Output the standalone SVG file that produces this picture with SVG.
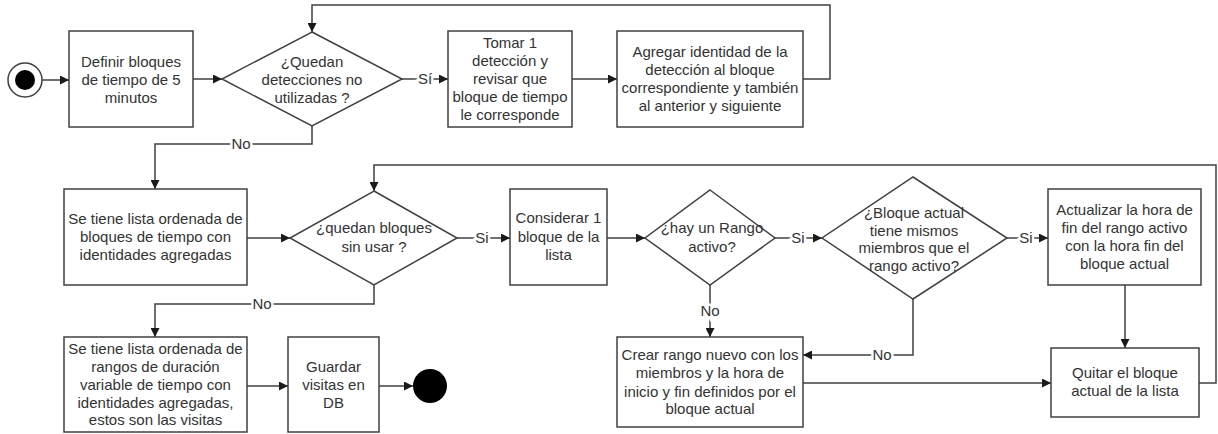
<svg xmlns="http://www.w3.org/2000/svg" width="1218" height="434" viewBox="0 0 1218 434">
  <style>
    .shape { fill: #ffffff; stroke: #404040; stroke-width: 1.5; }
    .txt { font-family: "Liberation Sans", Arial, sans-serif; font-size: 15px; fill: #333333; text-anchor: middle; }
    .lbl { font-family: "Liberation Sans", Arial, sans-serif; font-size: 15px; fill: #333333; text-anchor: middle; stroke: #ffffff; stroke-width: 5; paint-order: stroke; }
    .conn { fill: none; stroke: #404040; stroke-width: 1.5; }
    .arrow { marker-end: url(#head); }
  </style>
  <defs>
    <marker id="head" viewBox="0 0 10 10" refX="10" refY="5" markerWidth="9" markerHeight="9" markerUnits="userSpaceOnUse" orient="auto">
      <path d="M0,0 L10,5 L0,10 Z" fill="#1a1a1a"/>
    </marker>
  </defs>

  <rect width="1218" height="434" fill="#ffffff"/>

  <!-- connectors -->
  <g id="connectors">
    <path class="conn arrow" d="M42,80 H69"/>
    <path class="conn arrow" d="M193,79 H222"/>
    <path class="conn arrow" d="M402,79 H448"/>
    <path class="conn arrow" d="M572,79 H617"/>
    <path class="conn arrow" d="M803,79 H830 V5 H312 V32"/>
    <path class="conn arrow" d="M312,126 V144 H155 V189"/>
    <path class="conn arrow" d="M247,238 H290"/>
    <path class="conn arrow" d="M457,238 H510"/>
    <path class="conn arrow" d="M607,238 H645"/>
    <path class="conn arrow" d="M775,238 H822"/>
    <path class="conn arrow" d="M1007,238 H1048"/>
    <path class="conn arrow" d="M710,285 V337"/>
    <path class="conn arrow" d="M913,299 V355 H803"/>
    <path class="conn arrow" d="M1125,285 V348"/>
    <path class="conn arrow" d="M803,383 H1051"/>
    <path class="conn arrow" d="M1199,383 H1216 V165 H374 V191"/>
    <path class="conn arrow" d="M374,285 V304 H155 V337"/>
    <path class="conn arrow" d="M247,386 H288"/>
    <path class="conn arrow" d="M379,386 H413"/>

    <text class="lbl" x="425" y="84">Sí</text>
    <text class="lbl" x="241" y="149">No</text>
    <text class="lbl" x="482" y="243">Si</text>
    <text class="lbl" x="798" y="243">Si</text>
    <text class="lbl" x="1026" y="243">Si</text>
    <text class="lbl" x="710" y="316">No</text>
    <text class="lbl" x="882" y="360">No</text>
    <text class="lbl" x="262" y="309">No</text>
  </g>

  <!-- start -->
  <g id="start">
    <circle cx="25" cy="80" r="17" fill="#ffffff" stroke="#404040" stroke-width="1.5"/>
    <circle cx="25" cy="80" r="10" fill="#000000"/>
  </g>

  <g id="definir">
    <rect class="shape" x="69" y="31" width="124" height="96"/>
    <text class="txt"><tspan x="131" y="67">Definir bloques</tspan><tspan x="131" y="85">de tiempo de 5</tspan><tspan x="131" y="103">minutos</tspan></text>
  </g>

  <g id="quedan-detecciones">
    <polygon class="shape" points="312,32 402,79 312,126 222,79"/>
    <text class="txt"><tspan x="312" y="67">¿Quedan</tspan><tspan x="312" y="85">detecciones no</tspan><tspan x="312" y="103">utilizadas ?</tspan></text>
  </g>

  <g id="tomar">
    <rect class="shape" x="448" y="31" width="124" height="96"/>
    <text class="txt"><tspan x="510" y="48">Tomar 1</tspan><tspan x="510" y="66">detección y</tspan><tspan x="510" y="84">revisar que</tspan><tspan x="510" y="102">bloque de tiempo</tspan><tspan x="510" y="120">le corresponde</tspan></text>
  </g>

  <g id="agregar">
    <rect class="shape" x="617" y="31" width="186" height="96"/>
    <text class="txt"><tspan x="710" y="57">Agregar identidad de la</tspan><tspan x="710" y="75">detección al bloque</tspan><tspan x="710" y="93">correspondiente y también</tspan><tspan x="710" y="111">al anterior y siguiente</tspan></text>
  </g>

  <g id="lista-bloques">
    <rect class="shape" x="64" y="189" width="183" height="96"/>
    <text class="txt"><tspan x="155.5" y="224">Se tiene lista ordenada de</tspan><tspan x="155.5" y="242">bloques de tiempo con</tspan><tspan x="155.5" y="260">identidades agregadas</tspan></text>
  </g>

  <g id="quedan-bloques">
    <polygon class="shape" points="374,191 457,238 374,285 290,238"/>
    <text class="txt"><tspan x="374" y="233">¿quedan bloques</tspan><tspan x="374" y="252">sin usar ?</tspan></text>
  </g>

  <g id="considerar">
    <rect class="shape" x="510" y="189" width="97" height="96"/>
    <text class="txt"><tspan x="558.5" y="223">Considerar 1</tspan><tspan x="558.5" y="242">bloque de la</tspan><tspan x="558.5" y="260">lista</tspan></text>
  </g>

  <g id="rango-activo">
    <polygon class="shape" points="710,190 775,238 710,285 645,238"/>
    <text class="txt"><tspan x="712" y="233">¿hay un Rango</tspan><tspan x="712" y="252">activo?</tspan></text>
  </g>

  <g id="mismos-miembros">
    <polygon class="shape" points="913,177 1007,238 913,299 822,238"/>
    <text class="txt"><tspan x="914" y="218">¿Bloque actual</tspan><tspan x="914" y="236">tiene mismos</tspan><tspan x="914" y="253">miembros que el</tspan><tspan x="914" y="271">rango activo?</tspan></text>
  </g>

  <g id="actualizar">
    <rect class="shape" x="1048" y="189" width="153" height="96"/>
    <text class="txt"><tspan x="1124.5" y="215">Actualizar la hora de</tspan><tspan x="1124.5" y="233">fin del rango activo</tspan><tspan x="1124.5" y="251">con la hora fin del</tspan><tspan x="1124.5" y="269">bloque actual</tspan></text>
  </g>

  <g id="crear">
    <rect class="shape" x="617" y="337" width="186" height="90"/>
    <text class="txt"><tspan x="710" y="360">Crear rango nuevo con los</tspan><tspan x="710" y="378">miembros y la hora de</tspan><tspan x="710" y="397">inicio y fin definidos por el</tspan><tspan x="710" y="414">bloque actual</tspan></text>
  </g>

  <g id="quitar">
    <rect class="shape" x="1051" y="348" width="148" height="69"/>
    <text class="txt"><tspan x="1125" y="378">Quitar el bloque</tspan><tspan x="1125" y="396">actual de la lista</tspan></text>
  </g>

  <g id="lista-rangos">
    <rect class="shape" x="64" y="337" width="183" height="95"/>
    <text class="txt"><tspan x="155.5" y="354">Se tiene lista ordenada de</tspan><tspan x="155.5" y="372">rangos de duración</tspan><tspan x="155.5" y="390">variable de tiempo con</tspan><tspan x="155.5" y="408">identidades agregadas,</tspan><tspan x="155.5" y="425">estos son las visitas</tspan></text>
  </g>

  <g id="guardar">
    <rect class="shape" x="288" y="337" width="91" height="95"/>
    <text class="txt"><tspan x="333.5" y="372">Guardar</tspan><tspan x="333.5" y="390">visitas en</tspan><tspan x="333.5" y="408">DB</tspan></text>
  </g>

  <!-- end -->
  <g id="end">
    <circle cx="430" cy="386" r="17" fill="#000000"/>
  </g>
</svg>
